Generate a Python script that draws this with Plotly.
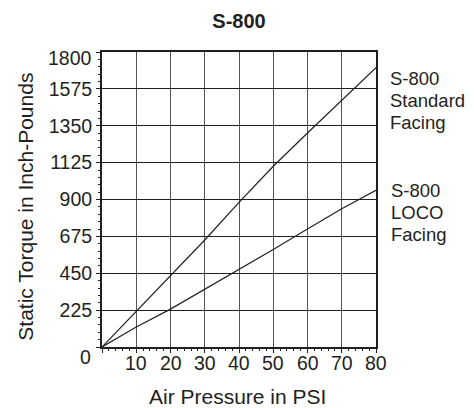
import plotly.graph_objects as go

# ---- data ----
psi = [0, 10, 20, 30, 40, 50, 60, 70, 80]
standard_facing = [0, 218, 433, 653, 882, 1103, 1306, 1507, 1705]
loco_facing = [0, 122, 231, 351, 471, 595, 720, 844, 956]

x_ticks = [0, 10, 20, 30, 40, 50, 60, 70, 80]
x_ticktext = ["", "10", "20", "30", "40", "50", "60", "70", "80"]
y_ticks = [0, 225, 450, 675, 900, 1125, 1350, 1575, 1800]
y_ticktext = ["", "225", "450", "675", "900", "1125", "1350", "1575", ""]

FONT = "Liberation Sans, Arial, Helvetica, sans-serif"
TXT = "#231f20"

OFF = 8  # page body margin
# plot area in page pixels
L, R, T, B = 102, 376, 52, 347
W, H = 474 - OFF, 408 - OFF


def px(x):
    return (x - L) / (R - L)


def py(y):
    return (B - y) / (B - T)


fig = go.Figure()
fig.add_trace(go.Scatter(x=psi, y=standard_facing, mode="lines",
                         line=dict(color="#231f20", width=1.2),
                         name="S-800 Standard Facing", showlegend=False,
                         hoverinfo="x+y"))
fig.add_trace(go.Scatter(x=psi, y=loco_facing, mode="lines",
                         line=dict(color="#231f20", width=1.2),
                         name="S-800 LOCO Facing", showlegend=False,
                         hoverinfo="x+y"))

annotations = []
annotations.append(dict(text="Static Torque in Inch-Pounds", xref="paper", yref="paper",
                        x=px(26), y=py(206.7), xanchor="center", yanchor="middle",
                        textangle=-90, showarrow=False,
                        font=dict(family=FONT, size=21, color=TXT)))
annotations.append(dict(text="Air Pressure in PSI", xref="paper", yref="paper",
                        x=px(237), y=py(396), xanchor="center", yanchor="middle",
                        showarrow=False, font=dict(family=FONT, size=21, color=TXT)))
annotations.append(dict(text="1800", xref="paper", yref="paper", x=px(94), y=py(58),
                        xanchor="right", yanchor="middle", showarrow=False,
                        font=dict(family=FONT, size=19.5, color=TXT)))
annotations.append(dict(text="0", xref="paper", yref="paper", x=px(93), y=py(357),
                        xanchor="right", yanchor="middle", showarrow=False,
                        font=dict(family=FONT, size=19.5, color=TXT)))
# x tick labels
for xv, t in zip(x_ticks, x_ticktext):
    if t:
        annotations.append(dict(text=t, xref="x", yref="paper", x=xv, y=py(363),
                                xanchor="center", yanchor="middle", showarrow=False,
                                font=dict(family=FONT, size=19.5, color=TXT)))
for txt, yc, xl in [("S-800", 77, 388), ("Standard", 99, 388), ("Facing", 121, 388),
                    ("S-800", 189, 389), ("LOCO", 211, 389), ("Facing", 233, 389)]:
    annotations.append(dict(text=txt, xref="paper", yref="paper", x=px(xl), y=py(yc + 1),
                            xanchor="left", yanchor="middle", showarrow=False,
                            font=dict(family=FONT, size=18.5, color=TXT)))

fig.update_layout(
    width=W, height=H, autosize=False,
    margin=dict(l=L - OFF, r=W - (R - OFF), t=T - OFF, b=H - (B - OFF), pad=0),
    paper_bgcolor="white", plot_bgcolor="white",
    font=dict(family=FONT, color=TXT),
    title=dict(text="<b>S-800</b>", x=(239 - OFF) / W, y=1 - (21 - OFF) / H,
               xanchor="center", yanchor="middle",
               font=dict(family=FONT, size=20, color=TXT)),
    annotations=annotations,
    xaxis=dict(range=[0, 80], tickvals=x_ticks, showticklabels=False,
               showgrid=True, gridcolor="#555555", gridwidth=1.4,
               showline=True, linecolor="#231f20", linewidth=1.5, mirror=True,
               ticks="outside", ticklen=4, tickcolor="#231f20", tickwidth=1.2,
               minor=dict(dtick=2, ticks="outside", ticklen=2.5, tickcolor="#231f20",
                          tickwidth=1, showgrid=False),
               zeroline=False, fixedrange=True),
    yaxis=dict(range=[0, 1800], tickvals=y_ticks, ticktext=y_ticktext,
               showgrid=True, gridcolor="#231f20", gridwidth=1.2,
               showline=True, linecolor="#231f20", linewidth=2, mirror=True,
               ticks="outside", ticklen=4, tickcolor="#231f20", tickwidth=1.2,
               tickfont=dict(family=FONT, size=19.5, color=TXT),
               minor=dict(dtick=45, ticks="outside", ticklen=2.5, tickcolor="#231f20",
                          tickwidth=1, showgrid=False),
               zeroline=False, fixedrange=True),
)

fig.write_html("out.html")
